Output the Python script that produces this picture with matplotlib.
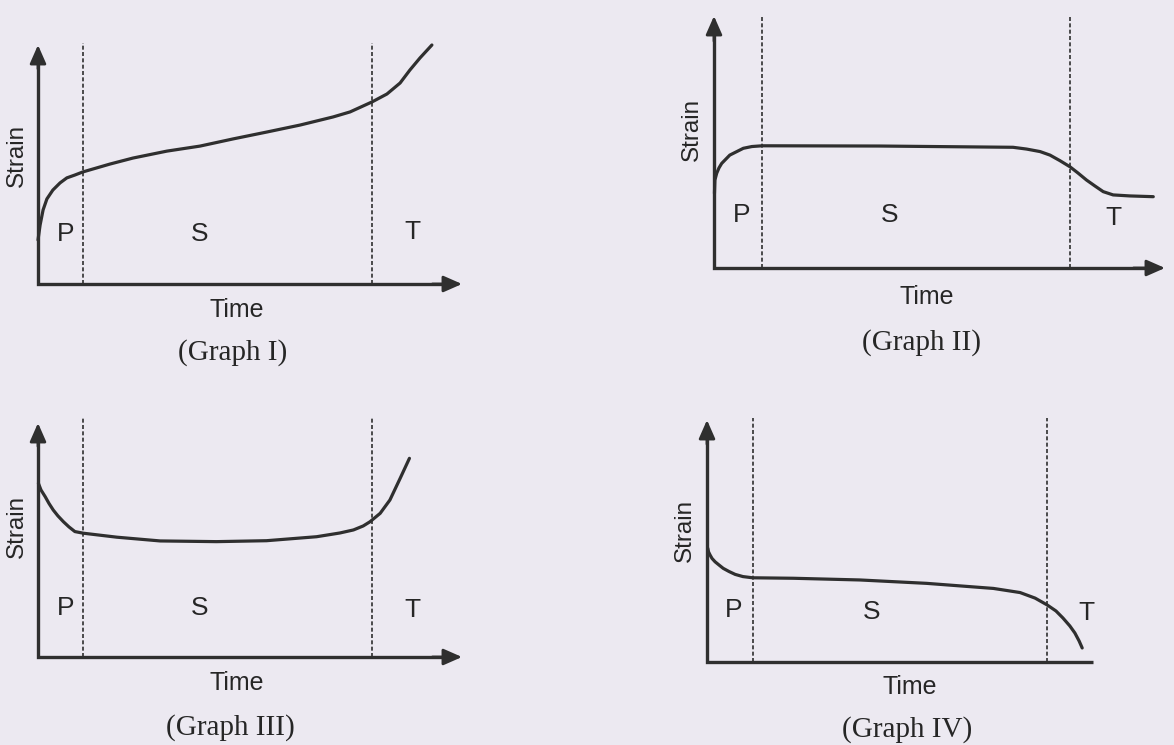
import matplotlib
matplotlib.use("Agg")
import matplotlib.pyplot as plt

W, H = 1174, 745
BG = '#ECE9F1'
INK = '#2f2f2f'

# ---- data (time, strain) in arbitrary units 0..10 ----
g1_time = [0.0, 0.05, 0.12, 0.21, 0.35, 0.52, 0.68, 0.87, 1.06, 1.70, 2.24, 3.04, 3.82, 4.60,
           5.40, 6.18, 6.96, 7.36, 7.88, 8.23, 8.54, 8.77, 9.01, 9.29]
g1_strain = [1.84, 2.47, 3.10, 3.56, 3.93, 4.23, 4.44, 4.56, 4.69, 5.02, 5.27, 5.56, 5.77, 6.07,
             6.36, 6.65, 6.99, 7.20, 7.62, 7.95, 8.41, 8.95, 9.46, 10.0]

g2_time = [0.01, 0.02, 0.06, 0.11, 0.17, 0.35, 0.65, 0.84, 1.07, 3.68, 6.63, 6.93, 7.23, 7.45,
           7.67, 7.89, 8.07, 8.26, 8.45, 8.63, 8.85, 9.22, 9.74]
g2_strain = [2.96, 3.49, 3.76, 3.97, 4.15, 4.48, 4.75, 4.82, 4.85, 4.84, 4.79, 4.72, 4.62, 4.48,
             4.26, 4.02, 3.77, 3.49, 3.25, 3.03, 2.90, 2.86, 2.83]

g3_time = [0.01, 0.07, 0.17, 0.26, 0.36, 0.47, 0.60, 0.73, 0.87, 1.07, 1.86, 2.88, 4.21, 5.39,
           6.57, 7.12, 7.44, 7.67, 7.83, 8.07, 8.30, 8.54, 8.76]
g3_strain = [7.42, 7.14, 6.85, 6.56, 6.28, 6.03, 5.78, 5.56, 5.36, 5.29, 5.12, 4.96, 4.93, 4.97,
             5.14, 5.30, 5.43, 5.60, 5.78, 6.14, 6.71, 7.63, 8.49]

g4_time = [0.02, 0.04, 0.08, 0.13, 0.21, 0.31, 0.42, 0.57, 0.73, 0.93, 1.18, 2.24, 3.96, 5.69,
           7.42, 8.11, 8.50, 8.81, 9.04, 9.22, 9.40, 9.53, 9.64, 9.72]
g4_strain = [4.70, 4.55, 4.42, 4.28, 4.14, 4.01, 3.87, 3.74, 3.62, 3.53, 3.48, 3.46, 3.39, 3.25,
             3.04, 2.87, 2.64, 2.36, 2.11, 1.82, 1.49, 1.20, 0.87, 0.58]

# stage boundaries (time) for each graph
g1_bounds = [1.06, 7.88]
g2_bounds = [1.06, 7.89]
g3_bounds = [1.06, 7.88]
g4_bounds = [1.19, 8.81]

stage_labels = ['P', 'S', 'T']
titles = ['(Graph I)', '(Graph II)', '(Graph III)', '(Graph IV)']
xlabel = 'Time'
ylabel = 'Strain'

fig = plt.figure(figsize=(W / 100, H / 100), dpi=100)
fig.patch.set_facecolor(BG)


def px_rect(x0, x1, ytop, ybot):
    return [x0 / W, 1 - ybot / H, (x1 - x0) / W, (ybot - ytop) / H]


def panel(rect, t, s, bounds, dash_top, lab_pos, strain_pos, time_pos, title_pos, title, x_arrow=True):
    ax = fig.add_axes(rect)
    ax.set_xlim(0, 10)
    ax.set_ylim(0, 10)
    ax.set_axis_off()
    ax.patch.set_alpha(0)
    # axis shafts (L-shape)
    xend = 0.97 if x_arrow else 1.0
    ax.plot([0, 0, xend], [0.95, 0, 0], transform=ax.transAxes, color=INK, lw=2.4,
            solid_capstyle='butt', solid_joinstyle='miter', clip_on=False)
    arrow = dict(arrowstyle='-|>,head_length=0.75,head_width=0.33', color=INK, lw=2.0,
                 mutation_scale=15, shrinkA=0, shrinkB=0)
    ax.annotate('', xy=(0, 1), xytext=(0, 0.9), xycoords='axes fraction', arrowprops=arrow)
    if x_arrow:
        ax.annotate('', xy=(1, 0), xytext=(0.93, 0), xycoords='axes fraction', arrowprops=arrow)
    # stage boundaries
    for b in bounds:
        ax.plot([b, b], [0, dash_top], color=INK, lw=1.2, ls=(0, (2.4, 1.4)), clip_on=False)
    # creep curve
    ax.plot(t, s, color=INK, lw=2.3, solid_capstyle='round', solid_joinstyle='round', clip_on=False)
    # stage labels
    for lab, (lx, ly) in zip(stage_labels, lab_pos):
        ax.text(lx, ly, lab, ha='center', va='center', fontsize=19, color='#262626',
                family='Liberation Sans')
    ax.text(strain_pos[0], strain_pos[1], ylabel, rotation=90, ha='center', va='center',
            fontsize=17.5, color='#262626', family='Liberation Sans')
    ax.text(time_pos[0], time_pos[1], xlabel, ha='center', va='center', fontsize=18,
            color='#262626', family='Liberation Sans')
    ax.text(title_pos[0], title_pos[1], title, ha='center', va='center', fontsize=21,
            color='#262626', family='Liberation Serif')
    return ax


panel(px_rect(38, 462, 45, 284), g1_time, g1_strain, g1_bounds, 10.08,
      [(0.64, 2.09), (3.82, 2.09), (8.84, 2.18)], (-0.50, 5.40), (4.69, -1.09), (4.6, -2.85), titles[0])
panel(px_rect(714, 1165, 16, 268), g2_time, g2_strain, g2_bounds, 10.04,
      [(0.62, 2.10), (3.90, 2.10), (8.85, 1.98)], (-0.49, 5.48), (4.72, -1.15), (4.59, -2.94), titles[1])
panel(px_rect(38, 462, 423, 657), g3_time, g3_strain, g3_bounds, 10.2,
      [(0.64, 2.09), (3.82, 2.09), (8.84, 2.01)], (-0.50, 5.56), (4.69, -1.11), (4.53, -3.03), titles[2])
panel(px_rect(707, 1093, 420, 662), g4_time, g4_strain, g4_bounds, 10.08,
      [(0.70, 2.15), (4.27, 2.07), (9.84, 2.02)], (-0.57, 5.45), (5.26, -1.03), (5.18, -2.81), titles[3],
      x_arrow=False)

fig.savefig('out.png', dpi=100, facecolor=BG)
